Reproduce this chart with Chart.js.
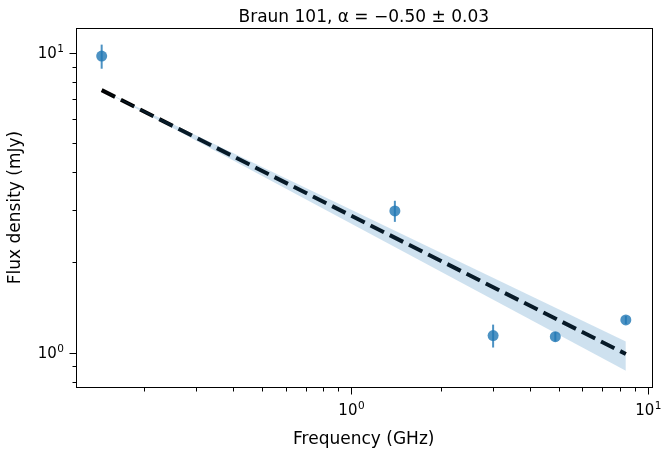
<!DOCTYPE html>
<html>
<head>
<meta charset="utf-8">
<script src="https://cdn.jsdelivr.net/npm/chart.js@4/dist/chart.umd.min.js"></script>
<style>
    body { margin: 0; background: #fff; }
    #wrap { width: 668px; height: 455px; }
</style>
</head>
<body>
<div id="wrap"><canvas id="sed"></canvas></div>
<script>
// Measurements
const freqs = [0.144, 1.4, 3.0, 4.86, 8.4];
const flux = [9.75, 2.97, 1.14, 1.13, 1.285];
const fluxErr = [0.9, 0.24, 0.1, 0.04, 0.04];

// Power-law fit and its 1 sigma band
const fitFreq = [0.144, 8.4];
const fitFlux = [7.51, 0.99];
const bandUpper = [7.51, 1.09];
const bandLower = [7.51, 0.87];

// Ticks
const xTicks = [0.2, 0.3, 0.4, 0.5, 0.6, 0.7, 0.8, 0.9, 1, 2, 3, 4, 5, 6, 7, 8, 9, 10];
const yTicks = [0.8, 0.9, 1, 2, 3, 4, 5, 6, 7, 8, 9, 10];
const majorTicks = [1, 10];
const majorBase = '10';
const majorExp = ['0', '1'];

const pointColor = 'rgba(31, 119, 180, 0.8)';
const fontFamily = "'DejaVu Sans', sans-serif";

const toXY = (xs, ys) => xs.map((v, i) => ({ x: v, y: ys[i] }));

const errorBars = {
    id: 'errorBars',
    afterDatasetsDraw(chart) {
        const { ctx, scales: { x, y } } = chart;
        ctx.save();
        ctx.strokeStyle = pointColor;
        ctx.lineWidth = 2;
        freqs.forEach((f, i) => {
            const px = x.getPixelForValue(f);
            ctx.beginPath();
            ctx.moveTo(px, y.getPixelForValue(flux[i] - fluxErr[i]));
            ctx.lineTo(px, y.getPixelForValue(flux[i] + fluxErr[i]));
            ctx.stroke();
        });
        ctx.restore();
    }
};

// "10" with a raised exponent, like matplotlib's log tick labels
function drawPower(ctx, exp, ax, baseline, align) {
    ctx.font = '15px ' + fontFamily;
    const w1 = ctx.measureText(majorBase).width;
    ctx.font = '10.5px ' + fontFamily;
    const w2 = ctx.measureText(exp).width;
    const total = w1 + 0.5 + w2;
    const x0 = align === 'center' ? ax - total / 2 : ax - total;
    ctx.textAlign = 'left';
    ctx.textBaseline = 'alphabetic';
    ctx.font = '15px ' + fontFamily;
    ctx.fillText(majorBase, x0, baseline);
    ctx.font = '10.5px ' + fontFamily;
    ctx.fillText(exp, x0 + w1 + 0.5, baseline - 6);
}

// box around the plot, major / minor tick marks and their labels
const axisFrame = {
    id: 'axisFrame',
    afterDraw(chart) {
        const { ctx, chartArea: a, scales: { x, y } } = chart;
        const left = Math.round(a.left) + 0.5;
        const bottom = Math.round(a.bottom) + 0.5;
        ctx.save();
        ctx.strokeStyle = '#000';
        ctx.fillStyle = '#000';
        ctx.lineWidth = 1;
        ctx.strokeRect(left, Math.round(a.top) + 0.5,
            Math.round(a.right - a.left), Math.round(a.bottom - a.top));
        ctx.beginPath();
        xTicks.forEach(v => {
            const px = Math.round(x.getPixelForValue(v)) + 0.5;
            const len = majorTicks.includes(v) ? 7 : 4;
            ctx.moveTo(px, bottom);
            ctx.lineTo(px, bottom + len);
        });
        yTicks.forEach(v => {
            const py = Math.round(y.getPixelForValue(v)) + 0.5;
            const len = majorTicks.includes(v) ? 7 : 4;
            ctx.moveTo(left, py);
            ctx.lineTo(left - len, py);
        });
        ctx.stroke();
        majorTicks.forEach((v, i) => {
            drawPower(ctx, majorExp[i], x.getPixelForValue(v), a.bottom + 27.5, 'center');
            drawPower(ctx, majorExp[i], a.left - 12, y.getPixelForValue(v) + 5.5, 'right');
        });
        ctx.restore();
    }
};

Chart.defaults.font.family = fontFamily;
Chart.defaults.color = '#000';

const SED = document.getElementById("sed");
const sedChart = new Chart(SED, {
    type: 'scatter',
    data: {
        datasets: [{
            type: 'line',
            data: toXY(fitFreq, bandUpper),
            borderWidth: 0,
            pointRadius: 0,
            fill: '+1',
            backgroundColor: 'rgba(31, 119, 180, 0.22)',
        }, {
            type: 'line',
            data: toXY(fitFreq, bandLower),
            borderWidth: 0,
            pointRadius: 0,
            fill: false,
        }, {
            type: 'line',
            data: toXY(fitFreq, fitFlux),
            borderColor: '#000',
            borderWidth: 4,
            borderDash: [15, 6.5],
            pointRadius: 0,
            fill: false,
        }, {
            data: toXY(freqs, flux),
            backgroundColor: pointColor,
            borderWidth: 0,
            pointRadius: 5.5,
            pointHoverRadius: 5.5,
        }]
    },
    options: {
        responsive: true,
        maintainAspectRatio: false,
        animation: false,
        events: [],
        layout: {
            padding: { left: 0, right: 16.5, top: 0, bottom: 0 }
        },
        plugins: {
            legend: { display: false },
            tooltip: { enabled: false },
            title: {
                display: true,
                fullSize: false,
                text: 'Braun 101, α = −0.50 ± 0.03',
                font: { size: 17, weight: 'normal' },
                padding: { top: 7, bottom: 0.6 },
            },
        },
        scales: {
            x: {
                type: 'logarithmic',
                min: 0.118,
                max: 10.25,
                afterBuildTicks: (scale) => {
                    scale.ticks = xTicks.map(v => ({ value: v }));
                },
                afterFit: (scale) => { scale.height = 68; },
                ticks: { display: false },
                grid: { display: false },
                border: { display: false },
                title: {
                    display: true,
                    text: 'Frequency (GHz)',
                    font: { size: 17 },
                    padding: { top: 0, bottom: 5 },
                },
            },
            y: {
                type: 'logarithmic',
                min: 0.768,
                max: 12.1,
                afterBuildTicks: (scale) => {
                    scale.ticks = yTicks.map(v => ({ value: v }));
                },
                afterFit: (scale) => { scale.width = 76; },
                ticks: { display: false },
                grid: { display: false },
                border: { display: false },
                title: {
                    display: true,
                    text: 'Flux density (mJy)',
                    font: { size: 17 },
                    padding: { top: 5, bottom: 0 },
                },
            },
        },
    },
    plugins: [errorBars, axisFrame],
});
</script>
</body>
</html>
